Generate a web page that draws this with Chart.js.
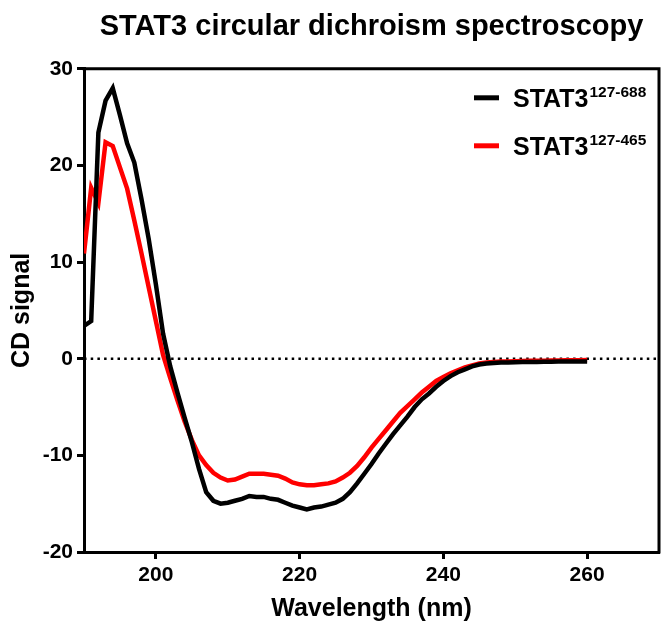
<!DOCTYPE html>
<html>
<head>
<meta charset="utf-8">
<script src="https://cdn.jsdelivr.net/npm/chart.js@4/dist/chart.umd.min.js"></script>
<style>
  html, body { margin: 0; padding: 0; background: #fff; }
  #wrap { width: 662px; height: 629px; }
</style>
</head>
<body>
<div id="wrap"><canvas id="c" width="662" height="629"></canvas></div>
<script>
// ---- data ----
const wavelengths = [190,191,192,193,194,195,196,197,198,199,
                     200,201,202,203,204,205,206,207,208,209,
                     210,211,212,213,214,215,216,217,218,219,
                     220,221,222,223,224,225,226,227,228,229,
                     230,231,232,233,234,235,236,237,238,239,
                     240,241,242,243,244,245,246,247,248,249,
                     250,251,252,253,254,255,256,257,258,259,260];

const stat3_127_688 = [3.4,3.9,23.4,26.7,28.0,25.2,22.3,20.3,16.5,12.4,
                       7.7,2.6,-0.8,-3.5,-6.1,-8.6,-11.4,-13.8,-14.7,-15.0,
                       -14.9,-14.7,-14.5,-14.2,-14.3,-14.3,-14.5,-14.6,-14.9,-15.2,
                       -15.4,-15.6,-15.4,-15.3,-15.1,-14.9,-14.5,-13.8,-12.9,-11.9,
                       -10.9,-9.8,-8.8,-7.8,-6.9,-6.0,-5.0,-4.2,-3.6,-2.9,
                       -2.3,-1.8,-1.4,-1.1,-0.8,-0.6,-0.5,-0.45,-0.4,-0.38,
                       -0.36,-0.35,-0.34,-0.33,-0.32,-0.31,-0.3,-0.3,-0.29,-0.28,-0.28];

const stat3_127_465 = [10.9,17.7,16.1,22.4,22.0,19.8,17.6,14.3,10.9,7.4,
                       3.9,0.4,-2.0,-4.3,-6.5,-8.4,-10.0,-11.0,-11.8,-12.3,
                       -12.6,-12.5,-12.2,-11.9,-11.9,-11.9,-12.0,-12.1,-12.4,-12.8,
                       -13.0,-13.1,-13.1,-13.0,-12.9,-12.7,-12.3,-11.8,-11.1,-10.2,
                       -9.2,-8.3,-7.4,-6.5,-5.6,-4.9,-4.2,-3.5,-2.9,-2.3,
                       -1.9,-1.5,-1.2,-0.9,-0.7,-0.5,-0.4,-0.35,-0.3,-0.28,
                       -0.26,-0.24,-0.22,-0.21,-0.2,-0.19,-0.18,-0.17,-0.16,-0.15,-0.14];

const seriesNames = ['STAT3', 'STAT3'];
const seriesSup   = ['127-688', '127-465'];
const seriesColors = ['#000000', '#ff0000'];

const zeroLineX = [190, 270];
const xTicks = [200, 220, 240, 260];
const yTicks = [-20, -10, 0, 10, 20, 30];

const titleText = 'STAT3 circular dichroism spectroscopy';
const xTitle = 'Wavelength (nm)';
const yTitle = 'CD signal';

// ---- chart ----
const FONT = '"Liberation Sans", Arial, Helvetica, sans-serif';

const toPoints = (vals) => wavelengths.map((w, i) => ({ x: w, y: vals[i] }));

const framePlugin = {
  id: 'frame',
  afterDraw(chart) {
    const { ctx, chartArea: a } = chart;
    ctx.save();
    ctx.strokeStyle = '#000';
    ctx.lineWidth = 3;
    ctx.lineCap = 'square';
    ctx.beginPath();
    ctx.moveTo(a.left, a.top);
    ctx.lineTo(a.right, a.top);
    ctx.lineTo(a.right, a.bottom);
    ctx.stroke();
    ctx.restore();
  }
};

const legendPlugin = {
  id: 'supLegend',
  afterDraw(chart) {
    const { ctx, chartArea: a } = chart;
    chart.data.datasets.forEach((ds) => {
      if (ds.legendIndex === undefined) return;
      const i = ds.legendIndex;
      const y = a.top + 29 + i * 48;
      const x0 = a.right - 185;
      ctx.save();
      ctx.strokeStyle = ds.borderColor;
      ctx.lineWidth = 5;
      ctx.lineCap = 'butt';
      ctx.beginPath();
      ctx.moveTo(x0, y);
      ctx.lineTo(x0 + 25, y);
      ctx.stroke();
      ctx.fillStyle = '#000';
      ctx.textBaseline = 'alphabetic';
      ctx.textAlign = 'left';
      ctx.font = 'bold 25px ' + FONT;
      ctx.fillText(seriesNames[i], x0 + 39, y + 9);
      const w = ctx.measureText(seriesNames[i]).width;
      ctx.font = 'bold 15.5px ' + FONT;
      ctx.fillText(seriesSup[i], x0 + 39 + w + 1, y - 1);
      ctx.restore();
    });
  }
};

new Chart(document.getElementById('c'), {
  type: 'line',
  data: {
    datasets: [
      {
        label: seriesNames[0] + seriesSup[0],
        legendIndex: 0,
        data: toPoints(stat3_127_688),
        borderColor: seriesColors[0],
        borderWidth: 4.5,
        pointRadius: 0,
        tension: 0,
        fill: false
      },
      {
        label: seriesNames[1] + seriesSup[1],
        legendIndex: 1,
        data: toPoints(stat3_127_465),
        borderColor: seriesColors[1],
        borderWidth: 4.5,
        pointRadius: 0,
        tension: 0,
        fill: false
      },
      {
        label: 'zero',
        data: zeroLineX.map(x => ({ x: x, y: 0 })),
        borderColor: '#000',
        borderWidth: 2.5,
        borderDash: [2.5, 4.2],
        pointRadius: 0,
        fill: false
      }
    ]
  },
  options: {
    responsive: false,
    animation: false,
    events: [],
    layout: { padding: { left: 0, right: 3, top: 0, bottom: 0 } },
    plugins: {
      legend: { display: false },
      tooltip: { enabled: false },
      title: {
        display: true,
        text: titleText,
        fullSize: false,
        color: '#000',
        font: { family: FONT, size: 29, weight: 'bold' },
        padding: { top: 10, bottom: 24 }
      }
    },
    scales: {
      x: {
        type: 'linear',
        min: 190,
        max: 270,
        afterBuildTicks(scale) { scale.ticks = xTicks.map(v => ({ value: v })); },
        afterFit(scale) { scale.height = 77; },
        grid: { display: true, drawOnChartArea: false, drawTicks: true, tickLength: 7, tickWidth: 3, tickColor: '#000' },
        border: { display: true, color: '#000', width: 3 },
        ticks: { color: '#000', padding: 4, font: { family: FONT, size: 21, weight: 'bold' }, maxRotation: 0 },
        title: { display: true, text: xTitle, color: '#000', font: { family: FONT, size: 25, weight: 'bold' }, padding: { top: 0, bottom: 5 } }
      },
      y: {
        type: 'linear',
        min: -20,
        max: 30,
        afterBuildTicks(scale) { scale.ticks = yTicks.map(v => ({ value: v })); },
        afterFit(scale) { scale.width = 84; },
        grid: { display: true, drawOnChartArea: false, drawTicks: true, tickLength: 7, tickWidth: 3, tickColor: '#000' },
        border: { display: true, color: '#000', width: 3 },
        ticks: { color: '#000', padding: 4, font: { family: FONT, size: 21, weight: 'bold' } },
        title: { display: true, text: yTitle, color: '#000', font: { family: FONT, size: 25, weight: 'bold' }, padding: { top: 7, bottom: 0 } }
      }
    }
  },
  plugins: [framePlugin, legendPlugin]
});
</script>
</body>
</html>
